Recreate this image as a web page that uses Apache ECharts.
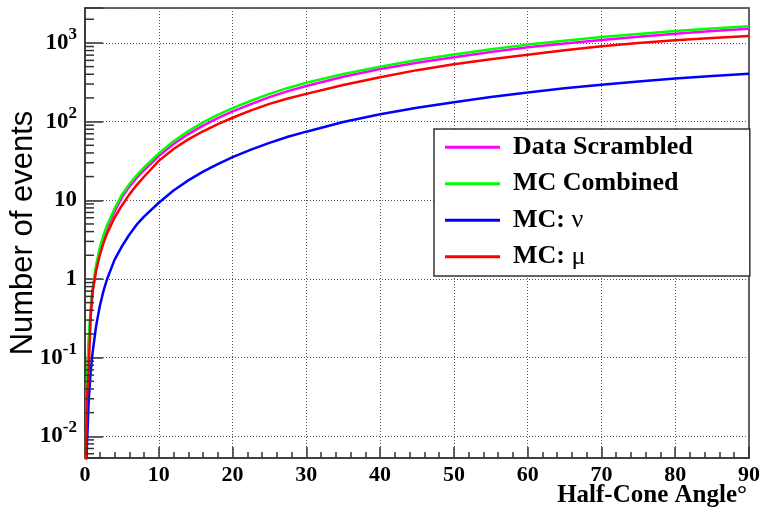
<!DOCTYPE html>
<html><head><meta charset="utf-8">
<script src="https://cdn.jsdelivr.net/npm/echarts@6/dist/echarts.min.js"></script>
<style>html,body{margin:0;padding:0;background:#fff}#c{width:764px;height:520px}</style>
</head><body><div id="c"></div>
<script>
const angles = [0.1, 0.25, 0.5, 0.75, 1, 1.5, 2, 2.5, 3, 4, 5, 6, 7, 8, 10, 12, 14, 16, 18, 20, 22.5, 25, 27.5, 30, 35, 40, 45, 50, 55, 60, 65, 70, 75, 80, 85, 90];
const dataScrambled = [0.004, 0.04, 0.15, 0.35, 0.66, 1.38, 2.3, 3.3, 4.45, 7.1, 10.9, 14.8, 19.2, 24.1, 36.4, 52, 69.5, 89, 111, 135, 167, 205, 244, 284, 372, 467, 560, 657, 766, 882, 985, 1091, 1199, 1312, 1416, 1520];
const mcCombined = [0.004, 0.05, 0.17, 0.4, 0.72, 1.5, 2.5, 3.6, 4.85, 7.8, 11.8, 16, 20.8, 26.2, 39.5, 56.4, 75.7, 97.6, 122, 148, 184, 225, 268, 312, 403, 500, 605, 714, 829, 952, 1068, 1186, 1300, 1419, 1524, 1630];
const mcNu = [0.003, 0.007, 0.028, 0.063, 0.11, 0.25, 0.45, 0.7, 1.0, 1.75, 2.6, 3.65, 4.9, 6.2, 9.3, 13.3, 17.9, 23.1, 28.9, 35.3, 44, 53.7, 64.2, 74.5, 99, 124, 150, 176, 205, 234, 265, 295, 323, 352, 380, 407];
const mcMu = [0.004, 0.03, 0.07, 0.3, 0.66, 1.26, 2.0, 2.85, 3.8, 6.0, 8.6, 11.8, 15.6, 19.9, 31.7, 44.8, 59.4, 75.4, 93, 112, 139, 168, 197, 225, 292, 366, 451, 536, 622, 710, 808, 908, 1000, 1083, 1158, 1227];

const seriesNames = ['Data Scrambled', 'MC Combined', 'MC: \u03bd', 'MC: \u03bc'];
const seriesColors = ['#ff00ff', '#00ff00', '#0000ff', '#ff0000'];
const seriesValues = [dataScrambled, mcCombined, mcNu, mcMu];

const xMin = 0, xMax = 90, xInterval = 10;
const yMin = 0.0053, yMax = 2780;
const yTickExponents = [-2, -1, 0, 1, 2, 3];
const yTickLabels = ['10{sup|-2}', '10{sup|-1}', '1', '10', '10{sup|2}', '10{sup|3}'];
const xTitle = 'Half-Cone Angle\u00b0';
const yTitle = 'Number of events';

const SERIF = '"Liberation Serif", "Times New Roman", serif';
const SANS = '"Liberation Sans", Arial, sans-serif';
const FRAME = '#333';

const chart = echarts.init(document.getElementById('c'), null, {renderer: 'canvas'});

const option = {
  animation: false,
  backgroundColor: '#fff',
  grid: {left: 85, right: 15, top: 8, bottom: 62, containLabel: false, outerBoundsMode: 'none', show: true, borderColor: FRAME, borderWidth: 1.5, backgroundColor: '#fff'},
  xAxis: {
    type: 'value', min: xMin, max: xMax, interval: xInterval,
    name: xTitle, nameLocation: 'end', nameGap: -2, nameMoveOverlap: false,
    nameTextStyle: {fontFamily: SERIF, fontWeight: 'bold', fontSize: 25, color: '#000', align: 'right', verticalAlign: 'top', lineHeight: 25, padding: [25, 0, 0, 0]},
    axisLine: {show: true, lineStyle: {color: FRAME, width: 1.5}},
    axisTick: {show: true, inside: true, length: 11, lineStyle: {color: FRAME, width: 1.5}},
    minorTick: {show: true, splitNumber: 5, length: 6, lineStyle: {color: FRAME, width: 1.5}},
    axisLabel: {fontFamily: SERIF, fontWeight: 'bold', fontSize: 22, color: '#000', margin: 6},
    splitLine: {show: true, lineStyle: {color: '#555', width: 1, type: [1, 2]}}
  },
  yAxis: {
    type: 'log', logBase: 10, min: yMin, max: yMax,
    name: yTitle, nameLocation: 'middle', nameGap: 46, nameMoveOverlap: false,
    nameTextStyle: {fontFamily: SANS, fontSize: 31, color: '#000'},
    axisLine: {show: true, lineStyle: {color: FRAME, width: 1.5}},
    axisTick: {show: true, inside: true, length: 18, lineStyle: {color: FRAME, width: 1.5}},
    axisLabel: {
      fontFamily: SERIF, fontWeight: 'bold', fontSize: 23, color: '#000', margin: 8, lineHeight: 34,
      formatter: function (val) {
        const e = Math.log10(val);
        const r = Math.round(e);
        if (Math.abs(e - r) > 1e-6) return '';
        const i = yTickExponents.indexOf(r);
        return i >= 0 ? yTickLabels[i] : '';
      },
      rich: {sup: {fontFamily: SERIF, fontWeight: 'bold', fontSize: 17, color: '#000', verticalAlign: 'top', lineHeight: 17}}
    },
    splitLine: {show: true, lineStyle: {color: '#555', width: 1, type: [1, 2]}}
  },
  legend: {
    orient: 'vertical', left: 434, top: 129,
    data: seriesNames,
    icon: 'rect', itemWidth: 55, itemHeight: 3, itemGap: 0,
    padding: [0, 57, 1, 11],
    backgroundColor: '#fff', borderColor: FRAME, borderWidth: 1.5,
    textStyle: {
      fontFamily: SERIF, fontWeight: 'bold', fontSize: 26, color: '#000', lineHeight: 36.5, padding: [0, 0, 0, 8],
      rich: {
        b: {fontFamily: SERIF, fontWeight: 'bold', fontSize: 26, color: '#000', lineHeight: 36.5},
        g: {fontFamily: SERIF, fontWeight: 'normal', fontSize: 26, color: '#000', lineHeight: 36.5}
      }
    },
    formatter: function (name) {
      if (name.indexOf('MC: ') === 0) return '{b|MC: }{g|' + name.slice(4) + '}';
      return name;
    }
  },
  series: seriesNames.map(function (n, i) {
    return {
      name: n, type: 'line', symbol: 'none', clip: true,
      itemStyle: {color: seriesColors[i]},
      lineStyle: {color: seriesColors[i], width: 2.5},
      data: angles.map(function (a, j) { return [a, seriesValues[i][j]]; })
    };
  })
};
chart.setOption(option);

// minor log ticks at 2..9 x 10^n, positioned by the axis scale
const x0 = chart.convertToPixel({xAxisIndex: 0}, xMin);
const minor = [];
for (let n = -3; n <= 3; n++) {
  for (let k = 2; k <= 9; k++) {
    const v = k * Math.pow(10, n);
    if (v <= yMin || v >= yMax) continue;
    const y = chart.convertToPixel({yAxisIndex: 0}, v);
    minor.push({type: 'line', silent: true, z: 10, shape: {x1: x0, y1: y, x2: x0 + 9, y2: y}, style: {stroke: FRAME, lineWidth: 1.5}});
  }
}
chart.setOption({graphic: minor});
</script>
</body></html>
